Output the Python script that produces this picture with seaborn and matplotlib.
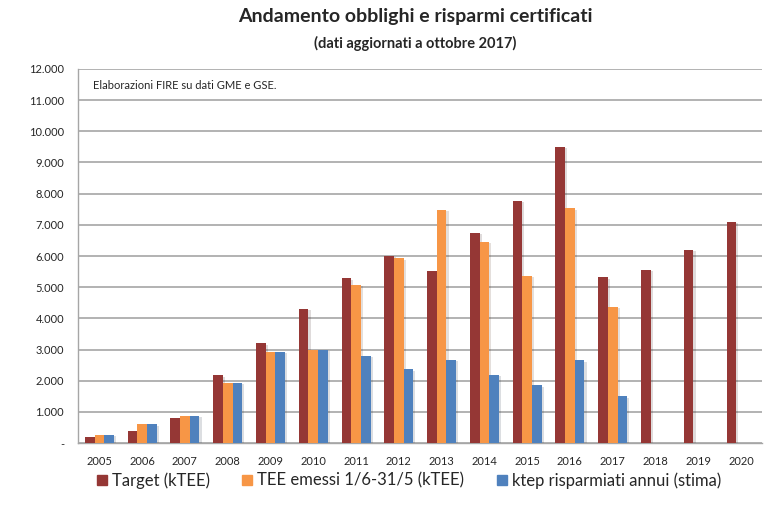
import matplotlib
matplotlib.use("Agg")
import matplotlib.pyplot as plt
import matplotlib.patheffects as pe
from matplotlib.lines import Line2D
from matplotlib.ticker import FuncFormatter, MultipleLocator
import numpy as np
import pandas as pd
import seaborn as sns

# values
years = [str(y) for y in range(2005, 2021)]
target = [190, 400, 790, 2170, 3200, 4300, 5280, 6000, 5510, 6740, 7770, 9500, 5320, 5550, 6190, 7100]
tee_emessi = [275, 600, 875, 1940, 2930, 3000, 5080, 5930, 7490, 6460, 5360, 7530, 4370,
              np.nan, np.nan, np.nan]
ktep_risparmiati = [275, 600, 875, 1940, 2930, 3000, 2800, 2370, 2680, 2200, 1860, 2650, 1500,
                    np.nan, np.nan, np.nan]

series_names = ["Target (kTEE)", "TEE emessi 1/6-31/5 (kTEE)", "ktep risparmiati annui (stima)"]
colors = ["#953735", "#F79646", "#4F81BD"]

df = pd.DataFrame({
    "anno": years * 3,
    "valore": target + tee_emessi + ktep_risparmiati,
    "serie": [series_names[0]] * 16 + [series_names[1]] * 16 + [series_names[2]] * 16,
})

sns.set_style("white")
plt.rcParams["font.family"] = ["Lato", "DejaVu Sans"]

fig = plt.figure(figsize=(7.84, 5.07), dpi=100)
ax = fig.add_axes([0.0995, 0.126, 0.873, 0.738])

sns.barplot(data=df, x="anno", y="valore", hue="serie", hue_order=series_names,
            palette=colors, width=0.68, errorbar=None, legend=False, ax=ax,
            saturation=1, linewidth=0, zorder=3)

# soft drop shadow like the original spreadsheet chart
for patch in ax.patches:
    patch.set_path_effects([pe.SimplePatchShadow(offset=(1.5, -1), alpha=0.15), pe.Normal()])

ax.set_ylim(0, 12000)
ax.set_xlim(-0.5, 15.5)
ax.yaxis.set_major_locator(MultipleLocator(1000))
ax.yaxis.set_major_formatter(FuncFormatter(
    lambda v, p: "-" if v == 0 else f"{v:,.0f}".replace(",", ".")))
ax.grid(axis="y", color="#A6A6A6", linewidth=1.2, zorder=0)
ax.set_axisbelow(True)

ax.set_xlabel("")
ax.set_ylabel("")
for s in ["top", "right"]:
    ax.spines[s].set_visible(False)
for s in ["left", "bottom"]:
    ax.spines[s].set_color("#A6A6A6")
    ax.spines[s].set_linewidth(1.0)

ax.tick_params(axis="y", length=4, color="#A6A6A6", labelsize=8, pad=6)
ax.tick_params(axis="x", which="major", length=0, labelsize=8, pad=9)
ax.set_xticks(np.arange(-0.5, 16, 1), minor=True)
ax.tick_params(axis="x", which="minor", length=4, color="#A6A6A6")

ax.text(0.022, 0.955, "Elaborazioni FIRE su dati GME e GSE.", transform=ax.transAxes,
        fontsize=8, va="center", ha="left")

fig.text(0.53, 0.967, "Andamento obblighi e risparmi certificati", ha="center", va="center",
         fontsize=14, fontweight="bold")
fig.text(0.53, 0.915, "(dati aggiornati a ottobre 2017)", ha="center", va="center",
         fontsize=10.5, fontweight="bold")

handles = [Line2D([], [], marker="s", linestyle="none", markersize=7, color=c) for c in colors]
fig.legend(handles, series_names, loc="center left", bbox_to_anchor=(0.1, 0.052),
           ncol=3, frameon=False, fontsize=12, handletextpad=0.1, columnspacing=1.75,
           handlelength=1.0)

fig.savefig("out.png", dpi=100)
